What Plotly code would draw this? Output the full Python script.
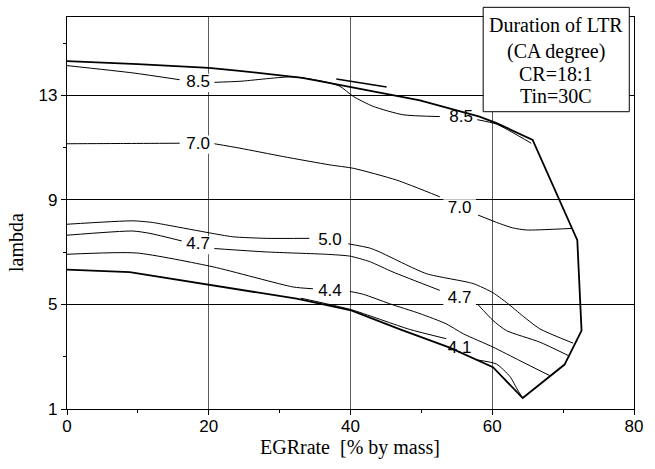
import plotly.graph_objects as go

# ---- data ----
# outer boundary of the LTR region
bnd_x = [0, 10, 20, 24, 33.2, 36.4, 49.8, 58.2, 60.6, 65.7, 72.0, 72.6, 70.2, 64.3, 60.1, 54.0, 47.0, 40.1, 32.4, 20.0, 8.85, 0]
bnd_y = [14.31, 14.2, 14.05, 13.95, 13.67, 13.51, 12.81, 12.19, 11.94, 11.3, 7.46, 4.0, 2.7, 1.42, 2.6, 3.35, 4.05, 4.77, 5.22, 5.77, 6.24, 6.33]
# short stray stroke near the top
stray_x = [38.0, 45.1]
stray_y = [13.63, 13.32]

# contour segments (gaps where labels sit)
c85 = [([0, 9.3, 15.9], [14.14, 13.86, 13.6]),
       ([20.8, 24.4, 31.9, 36.4, 38.5, 40.4, 43.2, 47.4, 52.6], [13.5, 13.54, 13.71, 13.52, 13.35, 12.96, 12.58, 12.26, 12.19]),
       ([57.9, 60.6, 65.5], [12.07, 11.9, 11.17])]
c70 = [([0, 8, 15.9], [11.15, 11.16, 11.17]),
       ([20.8, 24.4, 30.5, 37.1, 40.4, 46.5, 52.6], [11.15, 10.98, 10.66, 10.34, 10.21, 9.76, 9.12]),
       ([58.0, 61.0, 62.9, 64.8, 71.2], [8.42, 8.1, 7.93, 7.85, 7.91])]
c50 = [([0, 9.3, 12, 14.5, 20.1, 23.4, 28.1, 34.2], [8.07, 8.2, 8.14, 8.02, 7.74, 7.59, 7.53, 7.53]),
       ([39.7, 42.7, 44.1, 50.7, 57.3, 60.1, 62.5, 63.9, 66.7, 71.4], [7.32, 7.16, 7.01, 6.18, 5.8, 5.45, 4.97, 4.65, 4.07, 3.52])]
c47 = [([0, 9.3, 11.7, 16.2], [7.65, 7.81, 7.72, 7.43]),
       ([20.8, 28.1, 36.6, 39.9, 42.7, 46.0, 52.6], [7.14, 7.01, 6.92, 6.85, 6.64, 6.24, 5.54]),
       ([58.0, 60.1, 62.0, 66.7, 70.7], [4.99, 4.39, 4.0, 3.56, 3.05])]
c44 = [([0, 9.8, 20.6, 31.9, 34.7], [6.92, 6.97, 6.44, 5.67, 5.6]),
       ([39.9, 41.8, 45.5, 49.8, 53.5, 55.9, 60.1, 63.9, 68.1], [5.5, 5.39, 5.03, 4.65, 4.26, 3.88, 3.37, 2.85, 2.28])]
c41 = [([33.0, 40.1, 48.3, 53.5], [5.24, 4.8, 4.05, 3.69]),
       ([57.8, 60.6, 62.5, 63.6, 64.3], [2.88, 2.72, 2.24, 1.72, 1.42])]

label_text = ["8.5", "8.5", "7.0", "7.0", "5.0", "4.7", "4.7", "4.4", "4.1"]
label_x = [18.5, 55.6, 18.5, 55.4, 37.1, 18.5, 55.4, 37.1, 55.4]
label_y = [13.48, 12.13, 11.12, 8.68, 7.42, 7.27, 5.22, 5.48, 3.3]

box_lines = ["Duration of LTR", "(CA degree)", "CR=18:1", "Tin=30C"]

x_title = "EGRrate\u00a0\u00a0[% by mass]"
y_title = "lambda"

# ---- figure ----
fig = go.Figure()

for segs in [c85, c70, c50, c47, c44, c41]:
    xs, ys = [], []
    for sx, sy in segs:
        xs += list(sx) + [None]
        ys += list(sy) + [None]
    fig.add_trace(go.Scatter(x=xs, y=ys, mode="lines",
                             line=dict(color="black", width=1, shape="spline", smoothing=0.6),
                             connectgaps=False, showlegend=False, hoverinfo="skip"))

fig.add_trace(go.Scatter(x=bnd_x, y=bnd_y, mode="lines",
                         line=dict(color="black", width=1.8), showlegend=False, hoverinfo="skip"))
fig.add_trace(go.Scatter(x=stray_x, y=stray_y, mode="lines",
                         line=dict(color="black", width=1.5), showlegend=False, hoverinfo="skip"))

fig.add_trace(go.Scatter(x=label_x, y=label_y, mode="text", text=label_text,
                         textposition="middle center",
                         textfont=dict(family="Liberation Sans, Arial", size=17, color="black"),
                         showlegend=False, hoverinfo="skip"))

shapes = []
for lx, ly in zip(label_x, label_y):
    shapes.append(dict(type="rect", xref="x", yref="y",
                       x0=lx - 2.3, x1=lx + 2.3, y0=ly - 0.35, y1=ly + 0.35,
                       fillcolor="white", line=dict(width=0), layer="between"))
# legend-like box
shapes.append(dict(type="rect", xref="paper", yref="paper",
                   x0=0.734, x1=0.9917, y0=0.7584, y1=1.0247,
                   fillcolor="white", line=dict(color="black", width=1), layer="above"))

annotations = []
box_y_px = [25, 51.5, 74.5, 96.5]
for txt, py in zip(box_lines, box_y_px):
    annotations.append(dict(text=txt, xref="paper", yref="paper",
                            x=0.8625, y=(409 - py) / 392, xanchor="center", yanchor="middle",
                            showarrow=False,
                            font=dict(family="Liberation Serif, Times New Roman", size=20, color="black")))
annotations.append(dict(text=x_title, xref="paper", yref="paper", x=(350 - 67) / 567, y=(409 - 447) / 392,
                        xanchor="center", yanchor="middle", showarrow=False,
                        font=dict(family="Liberation Serif, Times New Roman", size=20, color="black")))
annotations.append(dict(text=y_title, xref="paper", yref="paper", x=(16 - 67) / 567, y=(409 - 243) / 392,
                        xanchor="center", yanchor="middle", showarrow=False, textangle=-90,
                        font=dict(family="Liberation Serif, Times New Roman", size=20, color="black")))

fig.update_layout(
    width=655, height=469,
    margin=dict(l=67, r=21, t=17, b=60),
    paper_bgcolor="white", plot_bgcolor="white",
    shapes=shapes, annotations=annotations,
    showlegend=False,
)
fig.update_xaxes(range=[0, 80], tick0=0, dtick=20, ticks="outside", ticklen=5, tickcolor="black",
                 ticklabelstandoff=-4,
                 showgrid=True, gridcolor="#5a5a5a", gridwidth=1,
                 showline=True, linecolor="black", linewidth=1.3, mirror=True, zeroline=False,
                 minor=dict(ticks="outside", ticklen=3, tickcolor="black", dtick=10, tick0=0, showgrid=False),
                 tickfont=dict(family="Liberation Sans, Arial", size=17, color="black"))
fig.update_yaxes(range=[1, 16], tick0=1, dtick=4, ticks="outside", ticklen=5, tickcolor="black",
                 showgrid=True, gridcolor="black", gridwidth=1,
                 showline=True, linecolor="black", linewidth=1.3, mirror=True, zeroline=False,
                 minor=dict(ticks="outside", ticklen=3, tickcolor="black", dtick=2, tick0=1, showgrid=False),
                 tickfont=dict(family="Liberation Sans, Arial", size=17, color="black"))

fig.write_html("out.html")
